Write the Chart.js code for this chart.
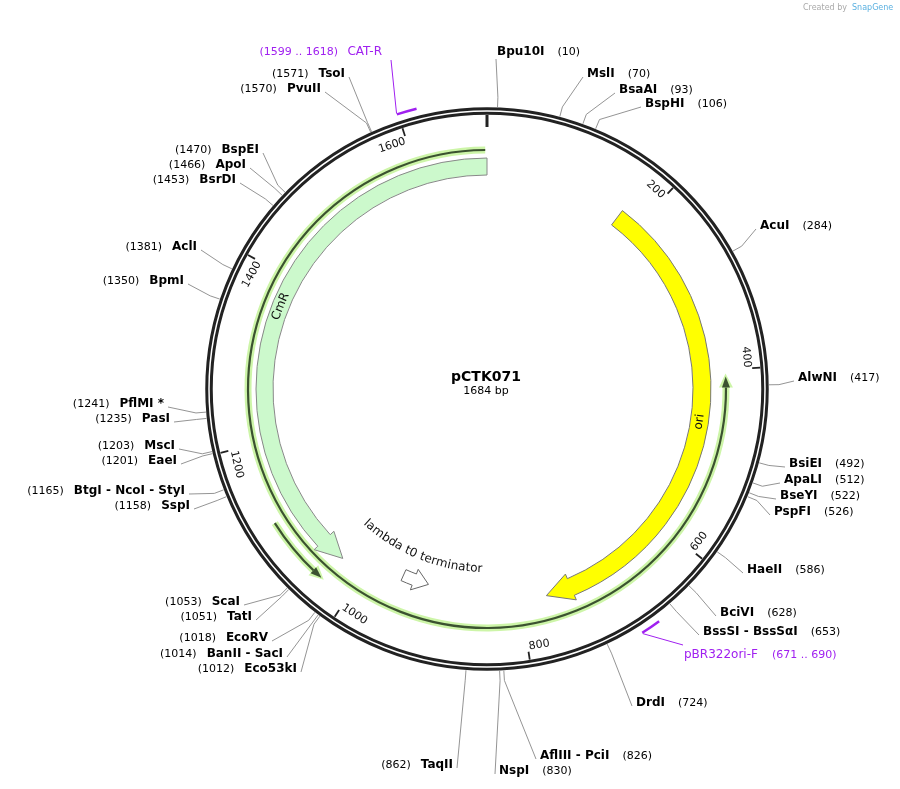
<!DOCTYPE html>
<html><head><meta charset="utf-8">
<script src="https://cdn.jsdelivr.net/npm/chart.js@4/dist/chart.umd.min.js"></script>
<style>html,body{margin:0;padding:0;background:#fff}#wrap{width:900px;height:789px}</style>
</head><body><div id="wrap"><canvas id="c" width="900" height="789"></canvas></div>
<script>
const SEQ_LEN = 1684;
const PLASMID = "pCTK071";
// enzyme sites
const enzNames = ["Bpu10I","MslI","BsaAI","BspHI","AcuI","AlwNI","BsiEI","ApaLI","BseYI","PspFI","HaeII","BciVI","BssSI - BssSαI","DrdI","AflIII - PciI","NspI","TaqII",
 "Eco53kI","BanII - SacI","EcoRV","TatI","ScaI","SspI","BtgI - NcoI - StyI","EaeI","MscI","PasI","PflMI *","BpmI","AclI","BsrDI","ApoI","BspEI","PvuII","TsoI"];
const enzPos = [10,70,93,106,284,417,492,512,522,526,586,628,653,724,826,830,862,
 1012,1014,1018,1051,1053,1158,1165,1201,1203,1235,1241,1350,1381,1453,1466,1470,1570,1571];
// label layout (text anchors): side R = name starts at x, L = name ends at x
const labSide = ["R","R","R","R","R","R","R","R","R","R","R","R","R","R","R","R","L",
 "L","L","L","L","L","L","L","L","L","L","L","L","L","L","L","L","L","L"];
const labX = [497,587,619,645,760,798,789,784,780,774,747,720,703,636,540,499,453,
 297,283,268,252,240,190,185,177,175,170,164,184,197,236,246,259,321,345];
const labY = [52,74,90,104,226,378,464,480,496,512,570,613,632,703,756,771,765,
 669,654,638,617,602,506,491,461,446,419,404,281,247,180,165,150,89,74];
// features
const featNames = ["CmR","ori","lambda t0 terminator"];
const featStart = [1031,174,920];
const featEnd = [1684,767,955];
// primer binding sites
const primerNames = ["CAT-R","pBR322ori-F"];
const primerStart = [1599,671];
const primerEnd = [1618,690];
// thin highlighted features
const thinStart = [407,1035];
const thinEnd = [1682,1112];
const tickVals = [200,400,600,800,1000,1200,1400,1600];

const CX=487, CY=389;
function ang(bp){return bp/SEQ_LEN*Math.PI*2-Math.PI/2;}

const mapPlugin = {
 id:'map',
 afterDraw(chart){
  const ctx=chart.ctx, sx=chart.scales.x, sy=chart.scales.y;
  const X=v=>sx.getPixelForValue(v), Y=v=>sy.getPixelForValue(v);
  const cx=X(CX), cy=Y(CY);
  const R=r=>X(CX+r)-cx;
  const pt=(bp,r)=>[cx+R(r)*Math.cos(ang(bp)), cy+R(r)*Math.sin(ang(bp))];
  ctx.save();
  ctx.font="8px 'DejaVu Sans'"; ctx.fillStyle="#aaa"; ctx.textAlign="left"; ctx.textBaseline="middle";
  ctx.fillText("Created by", X(803), Y(8)); ctx.fillStyle="#5ab0e0"; ctx.fillText("SnapGene", X(852), Y(8));
  // backbone
  ctx.beginPath(); ctx.arc(cx,cy,R(278),0,Math.PI*2); ctx.lineWidth=7.5; ctx.strokeStyle="#222"; ctx.stroke();
  ctx.beginPath(); ctx.arc(cx,cy,R(278),0,Math.PI*2); ctx.lineWidth=1.5; ctx.strokeStyle="#fff"; ctx.stroke();
  // ticks
  ctx.strokeStyle="#222";
  let a=pt(0,274), b=pt(0,262); ctx.beginPath(); ctx.moveTo(a[0],a[1]); ctx.lineTo(b[0],b[1]); ctx.lineWidth=3; ctx.stroke();
  ctx.lineWidth=1.8;
  ctx.font="11px 'DejaVu Sans'"; ctx.fillStyle="#111";
  tickVals.forEach(v=>{
    const p1=pt(v,274), p2=pt(v,266);
    ctx.beginPath(); ctx.moveTo(p1[0],p1[1]); ctx.lineTo(p2[0],p2[1]); ctx.stroke();
    const t=ang(v)+Math.PI/2; const flip = t>Math.PI/2 && t<Math.PI*1.5;
    const p=pt(v-1.2,266);
    ctx.save(); ctx.translate(p[0],p[1]);
    if(flip){ctx.rotate(t-Math.PI); ctx.textAlign="left";}
    else {ctx.rotate(t); ctx.textAlign="right";}
    ctx.textBaseline="middle";
    ctx.translate(0, flip? -5: 5);
    ctx.fillText(String(v),0,0); ctx.restore();
  });
  function arrowArc(s,e,ri,ro,fill,stroke,rev,headLen,flare){
    const a0=ang(s), a1=ang(e), rm=(ri+ro)/2;
    const hl=headLen/R(rm);
    ctx.beginPath();
    if(rev){
      const hb=a0+hl;
      ctx.arc(cx,cy,R(ro),a1,hb,true);
      ctx.lineTo(cx+R(ro+flare)*Math.cos(hb),cy+R(ro+flare)*Math.sin(hb));
      ctx.lineTo(cx+R(rm)*Math.cos(a0),cy+R(rm)*Math.sin(a0));
      ctx.lineTo(cx+R(ri-flare)*Math.cos(hb),cy+R(ri-flare)*Math.sin(hb));
      ctx.arc(cx,cy,R(ri),hb,a1,false);
    } else {
      const hb=a1-hl;
      ctx.arc(cx,cy,R(ro),a0,hb,false);
      ctx.lineTo(cx+R(ro+flare)*Math.cos(hb),cy+R(ro+flare)*Math.sin(hb));
      ctx.lineTo(cx+R(rm)*Math.cos(a1),cy+R(rm)*Math.sin(a1));
      ctx.lineTo(cx+R(ri-flare)*Math.cos(hb),cy+R(ri-flare)*Math.sin(hb));
      ctx.arc(cx,cy,R(ri),hb,a0,true);
    }
    ctx.closePath(); ctx.fillStyle=fill; ctx.fill(); ctx.lineWidth=1; ctx.strokeStyle=stroke; ctx.stroke();
  }
  function thin(s,e,r){
    const a0=ang(s), a1=ang(e);
    [[7,"#cdf5a8"],[2.2,"#3b5230"]].forEach(([w,c])=>{
      ctx.beginPath(); ctx.arc(cx,cy,R(r),a1,a0+9/R(r),true); ctx.lineWidth=w; ctx.strokeStyle=c; ctx.lineCap="butt"; ctx.stroke();
    });
    const hb=a0+11/R(r);
    [[ "#cdf5a8",3],["#3b5230",0]].forEach(([c,g])=>{
      ctx.beginPath();
      ctx.moveTo(cx+R(r+4+g)*Math.cos(hb),cy+R(r+4+g)*Math.sin(hb));
      ctx.lineTo(cx+R(r)*Math.cos(a0-g/R(r)),cy+R(r)*Math.sin(a0-g/R(r)));
      ctx.lineTo(cx+R(r-4-g)*Math.cos(hb),cy+R(r-4-g)*Math.sin(hb));
      ctx.closePath(); ctx.fillStyle=c; ctx.fill();
    });
  }
  thin(thinStart[0],thinEnd[0],239);
  thin(thinStart[1],thinEnd[1],251);
  arrowArc(featStart[0],featEnd[0],214,231,"#ccf9cc","#888",true,26,5);
  arrowArc(featStart[1],featEnd[1],206,224,"#ffff00","#777",false,26,5);
  arrowArc(featStart[2],featEnd[2],198,210,"#fff","#666",true,15,5);
  function curvedText(txt,bp,r,flip){
    ctx.save(); ctx.font="12px 'DejaVu Sans'"; ctx.fillStyle="#111"; ctx.textAlign="center"; ctx.textBaseline="middle";
    const w=ctx.measureText(txt).width; const tot=w/R(r);
    let a=ang(bp)+(flip?tot/2:-tot/2);
    for(const ch of txt){
      const cw=ctx.measureText(ch).width/R(r);
      const aa=a+(flip?-cw/2:cw/2);
      ctx.save(); ctx.translate(cx+R(r)*Math.cos(aa),cy+R(r)*Math.sin(aa));
      ctx.rotate(aa+(flip?-Math.PI/2:Math.PI/2)); ctx.fillText(ch,0,0); ctx.restore();
      a+= flip?-cw:cw;
    }
    ctx.restore();
  }
  curvedText(featNames[0],1365,222.5,false);
  curvedText(featNames[1],462,215,true);
  curvedText(featNames[2],945,180,true);
  // primers
  ctx.strokeStyle="#a020f0"; ctx.lineWidth=2.5;
  primerStart.forEach((s,i)=>{
    ctx.beginPath(); ctx.arc(cx,cy,R(289),ang(s),ang(primerEnd[i]),false); ctx.stroke();
  });
  ctx.lineWidth=1;
  let p=pt(primerStart[0],290); ctx.beginPath(); ctx.moveTo(p[0],p[1]); ctx.lineTo(X(391),Y(60)); ctx.stroke();
  p=pt(primerEnd[1],290); ctx.beginPath(); ctx.moveTo(p[0],p[1]); ctx.lineTo(X(683),Y(645)); ctx.stroke();
  ctx.fillStyle="#a020f0"; ctx.textBaseline="middle";
  ctx.font="12px 'DejaVu Sans'"; ctx.textAlign="right"; ctx.fillText(primerNames[0],X(382),Y(52));
  ctx.font="11px 'DejaVu Sans'"; ctx.fillText("("+primerStart[0]+" .. "+primerEnd[0]+")",X(338),Y(52));
  ctx.textAlign="left"; ctx.font="12px 'DejaVu Sans'"; ctx.fillText(primerNames[1],X(684),Y(655));
  ctx.font="11px 'DejaVu Sans'"; ctx.fillText("("+primerStart[1]+" .. "+primerEnd[1]+")",X(772),Y(655));
  // enzymes
  enzNames.forEach((n,i)=>{
    const bp=enzPos[i], right=labSide[i]==="R";
    ctx.font="bold 12px 'DejaVu Sans'";
    const w=ctx.measureText(n).width;
    const lx=X(labX[i]), ly=Y(labY[i]);
    const a1=pt(bp,282), a2=pt(bp,292);
    let ex, ey;
    if(i===0){ex=X(496);ey=ly+7;}
    else if(right){ex=lx-4;ey=ly+3;} else {ex=lx+4;ey=ly+3;}
    ctx.beginPath(); ctx.moveTo(a1[0],a1[1]); ctx.lineTo(a2[0],a2[1]); ctx.lineTo(ex,ey);
    ctx.strokeStyle="#888"; ctx.lineWidth=0.9; ctx.stroke();
    ctx.fillStyle="#000"; ctx.textBaseline="middle";
    const num="("+bp+")";
    if(right){
      ctx.textAlign="left"; ctx.fillText(n,lx,ly);
      ctx.font="11px 'DejaVu Sans'"; ctx.fillText(num,lx+w+13,ly);
    } else {
      ctx.textAlign="right"; ctx.fillText(n,lx,ly);
      ctx.font="11px 'DejaVu Sans'"; ctx.fillText(num,lx-w-10,ly);
    }
  });
  ctx.fillStyle="#000"; ctx.textAlign="center"; ctx.textBaseline="middle";
  ctx.font="bold 14px 'DejaVu Sans'"; ctx.fillText(PLASMID,X(486),Y(377));
  ctx.font="11px 'DejaVu Sans'"; ctx.fillText(SEQ_LEN+" bp",X(486),Y(391));
  ctx.restore();
 }
};

new Chart(document.getElementById('c'),{
 type:'scatter',
 data:{datasets:[{data:[],pointRadius:0}]},
 options:{responsive:false,animation:false,layout:{padding:0},
  plugins:{legend:{display:false},tooltip:{enabled:false}},
  scales:{x:{type:'linear',min:0,max:900,display:false},y:{type:'linear',min:0,max:789,reverse:true,display:false}}},
 plugins:[mapPlugin]
});
</script></body></html>
